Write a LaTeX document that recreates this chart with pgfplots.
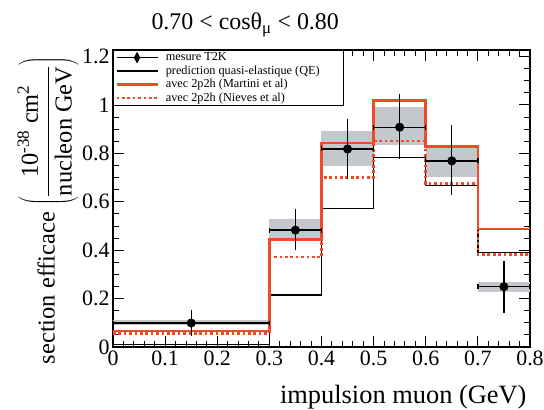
\documentclass[border=0pt]{standalone}
\usepackage{fontspec}
\setmainfont{Liberation Serif}
\usepackage{pgfplots}
\pgfplotsset{compat=1.18}
\usepackage{pgfplotstable}
\definecolor{mred}{RGB}{240,75,40}
\definecolor{band}{RGB}{196,200,204}

% T2K data: x, y, half bin width, total errors (+/-), stat errors (+/-)
\pgfplotstableread{
x y ex eyp eym esp esm
0.15 0.099 0.15 0.036 0.036 0.022 0.022
0.35 0.483 0.05 0.072 0.064 0.021 0.020
0.45 0.818 0.05 0.109 0.107 0.044 0.045
0.55 0.908 0.05 0.120 0.115 0.048 0.041
0.65 0.769 0.05 0.131 0.123 0.038 0.033
0.75 0.249 0.05 0.090 0.092 0.020 0.020
}\datatab

\begin{document}
\begin{tikzpicture}
\begin{axis}[
  scale only axis, width=417bp, height=297bp,
  xmin=0, xmax=0.8, ymin=0, ymax=1.227,
  xtick={0,0.1,0.2,0.3,0.4,0.5,0.6,0.7,0.8},
  xticklabels={\textrm{0},\textrm{0.1},\textrm{0.2},\textrm{0.3},\textrm{0.4},\textrm{0.5},\textrm{0.6},\textrm{0.7},\textrm{0.8}},
  ytick={0,0.2,0.4,0.6,0.8,1,1.2},
  yticklabels={\textrm{0},\textrm{0.2},\textrm{0.4},\textrm{0.6},\textrm{0.8},\textrm{1},\textrm{1.2}},
  minor x tick num=4, minor y tick num=3,
  tick align=inside,
  major tick length=11bp, minor tick length=6bp,
  axis line style={line width=1.1bp},
  every tick/.style={black, line width=0.9bp},
  ticklabel style={font=\rmfamily\fontsize{22}{25}\selectfont},
  clip mode=individual,
  legend style={at={(rel axis cs:0,1)}, anchor=north west, draw=black,
    line width=0.7bp, fill=white, font=\rmfamily\fontsize{12.3}{14}\selectfont,
    inner xsep=2bp, inner ysep=1bp, row sep=0.5bp, column sep=4bp,
    nodes={inner xsep=3bp, inner ysep=1.5bp}},
  legend cell align=left,
  legend image code/.code={\draw[#1] (4bp,0bp) -- (45bp,0bp);},
]
% systematic bands
\addplot[fill=band, draw=none, forget plot] coordinates {(0,0.090) (0.3,0.090) (0.3,0.110) (0,0.110)} -- cycle;
\addplot[fill=band, draw=none, forget plot] coordinates {(0.3,0.445) (0.4,0.445) (0.4,0.528) (0.3,0.528)} -- cycle;
\addplot[fill=band, draw=none, forget plot] coordinates {(0.4,0.748) (0.5,0.748) (0.5,0.893) (0.4,0.893)} -- cycle;
\addplot[fill=band, draw=none, forget plot] coordinates {(0.5,0.835) (0.6,0.835) (0.6,0.990) (0.5,0.990)} -- cycle;
\addplot[fill=band, draw=none, forget plot] coordinates {(0.6,0.704) (0.7,0.704) (0.7,0.828) (0.6,0.828)} -- cycle;
\addplot[fill=band, draw=none, forget plot] coordinates {(0.7,0.229) (0.8,0.229) (0.8,0.267) (0.7,0.267)} -- cycle;

% legend entries
\addlegendimage{black, line width=1.3bp, legend image code/.code={
  \draw[black, line width=1.3bp] (4bp,0bp) -- (45bp,0bp);
  \fill[black] (24.5bp,4.5bp) -- (27bp,0bp) -- (24.5bp,-4.5bp) -- (22bp,0bp) -- cycle;}}
\addlegendentry{\makebox[172bp][l]{mesure T2K}}
\addlegendimage{black, line width=1.3bp}
\addlegendentry{prediction quasi-elastique (QE)}
\addlegendimage{mred, line width=2.5bp}
\addlegendentry{avec 2p2h (Martini et al)}
\addlegendimage{mred, line width=2.5bp, dash pattern=on 2.7bp off 2.7bp}
\addlegendentry{avec 2p2h (Nieves et al)}

% QE prediction
\addplot[black, line width=1.3bp, const plot, forget plot] coordinates {
 (0,0.011) (0.3,0.215) (0.4,0.571) (0.5,0.784) (0.6,0.667) (0.7,0.390) (0.8,0.390)};
% Martini
\addplot[mred, line width=2.5bp, const plot, forget plot] coordinates {
 (0,0.067) (0.3,0.445) (0.4,0.842) (0.5,1.018) (0.6,0.828) (0.7,0.487) (0.8,0.487)};
% Nieves
\addplot[mred, line width=2.5bp, dash pattern=on 2.7bp off 2.7bp, const plot, forget plot] coordinates {
 (0,0.055) (0.3,0.371) (0.4,0.701) (0.5,0.851) (0.6,0.676) (0.7,0.383) (0.8,0.383)};

% data: horizontal bars
\addplot[black, line width=1.3bp, draw=none, mark=none, forget plot,
  error bars/.cd, x dir=both, x explicit,
  error mark options={black, line width=1.3bp, mark size=2.5bp, rotate=90},
  error bar style={black, line width=1.3bp}]
  table[x=x, y=y, x error=ex] {\datatab};
% total errors
\addplot[black, draw=none, mark=none, forget plot,
  error bars/.cd, y dir=both, y explicit,
  error mark options={black, line width=1.3bp, mark size=4bp},
  error bar style={black, line width=1.3bp}]
  table[x=x, y=y, y error plus=eyp, y error minus=eym] {\datatab};
% stat errors
\addplot[black, draw=none, mark=none, forget plot,
  error bars/.cd, y dir=both, y explicit,
  error mark options={black, line width=1.1bp, mark size=3bp},
  error bar style={black, line width=1.1bp}]
  table[x=x, y=y, y error plus=esp, y error minus=esm] {\datatab};
% markers
\addplot[only marks, mark=*, mark size=4.3bp, black, forget plot]
  table[x=x, y=y] {\datatab};

% title and labels
\node[font=\fontsize{24}{28}\selectfont] at (rel axis cs:0.317,1) [yshift=25bp]
  {0.70 < cosθ\textsubscript{μ} < 0.80};
\node[font=\fontsize{26.5}{30}\selectfont, anchor=base east] at (rel axis cs:1,-0.178) [yshift=-4bp]
  {impulsion muon (GeV)};
\node[font=\fontsize{24.5}{28}\selectfont, rotate=90, anchor=center] at (rel axis cs:-0.156,0.46)
  {section efficace $\left(\displaystyle\frac{\mbox{10\textsuperscript{-38} cm\textsuperscript{2}}}{\mbox{nucleon GeV}}\right)$};
\end{axis}
\pgfresetboundingbox
\path (-113bp,-63bp) rectangle (431bp,347bp);
\end{tikzpicture}
\end{document}
